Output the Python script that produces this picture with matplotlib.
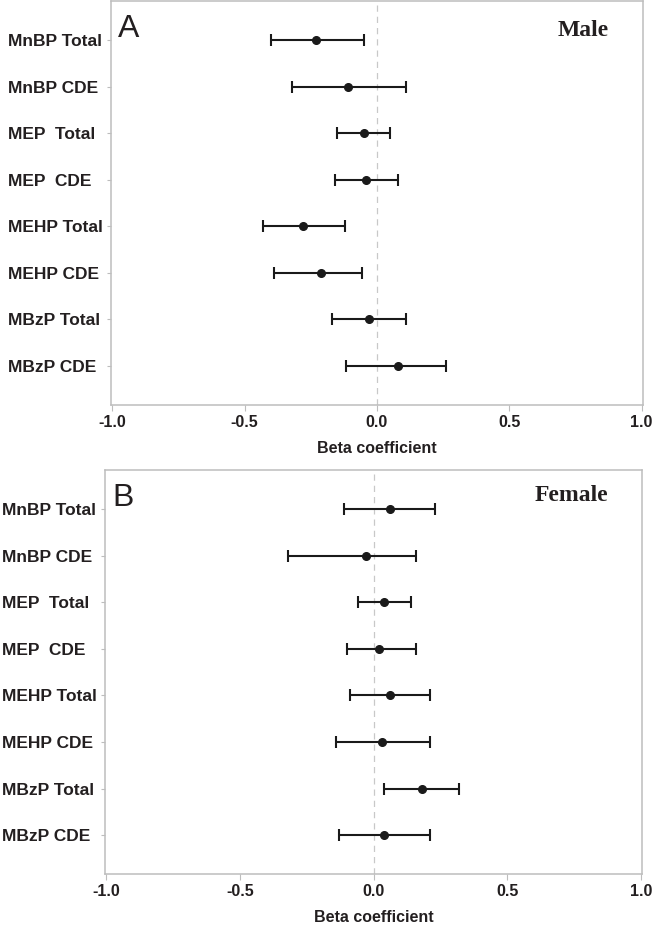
import matplotlib
matplotlib.use("Agg")
import matplotlib.pyplot as plt

# exposures (top to bottom)
labels = ["MnBP Total", "MnBP CDE", "MEP  Total", "MEP  CDE",
          "MEHP Total", "MEHP CDE", "MBzP Total", "MBzP CDE"]

# Panel A - Male
male_beta = [-0.23, -0.11, -0.05, -0.04, -0.28, -0.21, -0.03, 0.08]
male_lo = [-0.40, -0.32, -0.15, -0.16, -0.43, -0.39, -0.17, -0.115]
male_hi = [-0.05, 0.11, 0.05, 0.08, -0.12, -0.055, 0.11, 0.26]

# Panel B - Female
female_beta = [0.06, -0.03, 0.04, 0.02, 0.06, 0.03, 0.18, 0.04]
female_lo = [-0.11, -0.32, -0.06, -0.10, -0.09, -0.14, 0.04, -0.13]
female_hi = [0.23, 0.16, 0.14, 0.16, 0.21, 0.21, 0.32, 0.21]

xticks = [-1.0, -0.5, 0.0, 0.5, 1.0]

plt.rcParams['font.family'] = ['Liberation Sans', 'DejaVu Sans']
txt = '#231f20'
grey = '#bdbdbd'

fig = plt.figure(figsize=(6.52, 9.34), dpi=100)
axA = fig.add_axes([0.170, 0.5664, 0.816, 0.4325])
axB = fig.add_axes([0.161, 0.0642, 0.824, 0.4326])


def forest(ax, beta, lo, hi, letter, sex, sex_xy):
    y = list(range(len(labels)))
    xerr = [[b - l for b, l in zip(beta, lo)], [h - b for b, h in zip(beta, hi)]]
    ax.axvline(0, color='#c8c8c8', lw=0.9, ls=(0, (5, 4)), zorder=1)
    ax.errorbar(beta, y, xerr=xerr, fmt='o', color='#1a1a1a', ms=5.5,
                elinewidth=1.5, capsize=4, capthick=1.5, zorder=3)
    ax.set_xlim(-1.005, 1.005)
    ax.set_ylim(len(labels) - 1 + 0.835, -0.835)
    ax.set_yticks(y)
    ax.set_yticklabels(labels, fontsize=12.5, fontweight='bold', color=txt, ha='left')
    ax.set_xticks(xticks)
    ax.set_xticklabels([f"{v:.1f}" for v in xticks], fontsize=11.5,
                       fontweight='bold', color=txt)
    ax.tick_params(axis='y', length=3, color=grey, pad=71)
    ax.tick_params(axis='x', length=4, color=grey, pad=3)
    for s in ax.spines.values():
        s.set_color(grey)
        s.set_linewidth(1.1)
    ax.set_xlabel("Beta coefficient", fontsize=11.5, fontweight='bold',
                  color=txt, labelpad=8)
    ax.text(0.013, 0.968, letter, transform=ax.transAxes, fontsize=23,
            va='top', ha='left', color=txt)
    ax.text(sex_xy[0], sex_xy[1], sex, transform=ax.transAxes, fontsize=17,
            fontweight='bold', family=['Liberation Serif', 'DejaVu Serif'],
            va='center', ha='right', color=txt)


forest(axA, male_beta, male_lo, male_hi, "A", "Male", (0.936, 0.926))
forest(axB, female_beta, female_lo, female_hi, "B", "Female", (0.937, 0.936))

fig.savefig("out.png", dpi=100)
